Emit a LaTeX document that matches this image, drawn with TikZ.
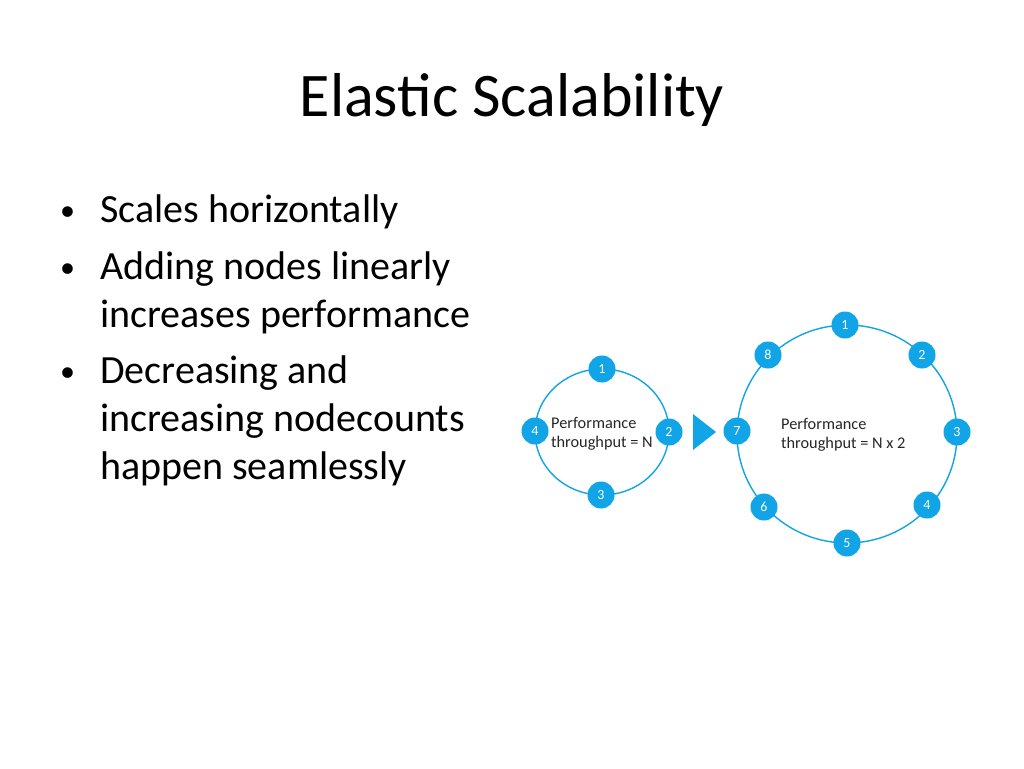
\documentclass[tikz,border=0pt]{standalone}
\usepackage{fontspec}
\setmainfont{Carlito}
\definecolor{az}{RGB}{17,164,230}
\begin{document}
\begin{tikzpicture}[x=1pt,y=-1pt,
  nd/.style={circle,fill=az,minimum size=27pt,inner sep=0pt,text=white,font=\fontsize{14}{14}\selectfont},
  ring/.style={draw=az,line width=1.4pt},
  bul/.style={anchor=base west,font=\fontsize{40}{48}\selectfont,inner sep=0pt},
  dot/.style={anchor=base west,font=\fontsize{30}{30}\selectfont,inner sep=0pt},
  lab/.style={anchor=base west,font=\fontsize{16.3}{19}\selectfont,inner sep=0pt,text=black!85}]
\useasboundingbox[fill=white] (0,0) rectangle (1024,768);
\node[anchor=base,font=\fontsize{62}{62}\selectfont,inner sep=0pt] (title) at (512,116) {Elastic Scalability};
\node[dot] (b1) at (60,220) {•};
\node[bul] (t1) at (100,222) {Scales horizontally};
\node[dot] (b2) at (60,277) {•};
\node[bul] (t2) at (100,279) {Adding nodes linearly};
\node[bul] (t2b) at (100,327) {increases performance};
\node[dot] (b3) at (60,381) {•};
\node[bul] (t3) at (100,383) {Decreasing and};
\node[bul] (t3b) at (100,431) {increasing nodecounts};
\node[bul] (t3c) at (100,479) {happen seamlessly};
% small ring
\draw[ring] (602,432) ellipse (67 and 63);
\node[nd] (s1) at (602,369) {1};
\node[nd] (s2) at (669,432) {2};
\node[nd] (s3) at (601,495) {3};
\node[nd] (s4) at (535,431) {4};
\node[lab] (sl) at (551,428) {Performance};
\node[lab] (sl2) at (551,447) {throughput = N};
% arrow
\fill[az] (693,414) -- (716,432) -- (693,450) -- cycle;
% big ring
\draw[ring] (847,434) ellipse (110 and 109);
\node[nd] (g1) at (845,325) {1};
\node[nd] (g2) at (922,355) {2};
\node[nd] (g3) at (957,432) {3};
\node[nd] (g4) at (927,505) {4};
\node[nd] (g5) at (847,543) {5};
\node[nd] (g6) at (764,507) {6};
\node[nd] (g7) at (737,431) {7};
\node[nd] (g8) at (768,355) {8};
\node[lab] (gl) at (781,429) {Performance};
\node[lab] (gl2) at (781,448) {throughput = N x 2};
\end{tikzpicture}
\end{document}
